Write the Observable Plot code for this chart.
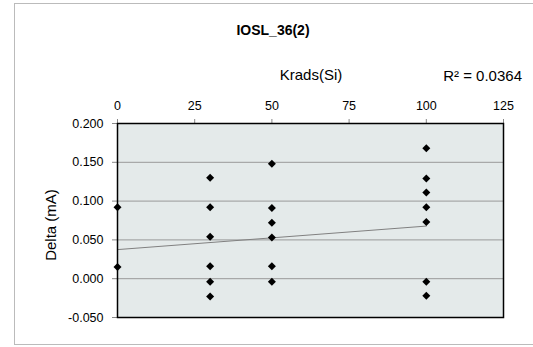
<!DOCTYPE html>
<html>
<head>
<meta charset="utf-8">
<script src="https://cdn.jsdelivr.net/npm/d3@7"></script>
<script src="https://cdn.jsdelivr.net/npm/@observablehq/plot@0.6"></script>
<style>
  html, body { margin: 0; padding: 0; background: #fff; }
  body { width: 533px; height: 347px; overflow: hidden; font-family: "Liberation Sans", Arial, sans-serif; }
  #wrap { position: relative; width: 533px; height: 347px; }
  #border { position: absolute; left: 14px; top: 3px; width: 530px; height: 342px; border: 1px solid #bbbbbb; box-sizing: border-box; }
  .lbl { position: absolute; white-space: nowrap; color: #000; }
  #title { left: 0; width: 546px; top: 22px; text-align: center; font-weight: bold; font-size: 14px; }
  #xlabel { left: 0; width: 622px; top: 66px; text-align: center; font-size: 15px; }
  #r2 { right: 11px; top: 67px; font-size: 15px; }
  #ylabel { left: 50px; top: 225px; font-size: 15px; transform: translate(-50%, -50%) rotate(-90deg); }
  #chart { position: absolute; left: 0; top: 0; }
</style>
</head>
<body>
<div id="wrap">
  <div id="border"></div>
  <div id="chart"></div>
  <div class="lbl" id="title"></div>
  <div class="lbl" id="xlabel"></div>
  <div class="lbl" id="r2"></div>
  <div class="lbl" id="ylabel"></div>
</div>
<script>
const titleText = "IOSL_36(2)";
const xLabel = "Krads(Si)";
const yLabel = "Delta (mA)";
const r2Text = "R² = 0.0364";

const xTicks = [0, 25, 50, 75, 100, 125];
const yTicks = [-0.05, 0, 0.05, 0.1, 0.15, 0.2];

// Data points (Krads(Si), Delta mA)
const krads = [0, 0,
  30, 30, 30, 30, 30, 30,
  50, 50, 50, 50, 50, 50,
  100, 100, 100, 100, 100, 100, 100];
const delta = [0.092, 0.015,
  0.130, 0.092, 0.054, 0.016, -0.004, -0.023,
  0.148, 0.091, 0.072, 0.053, 0.016, -0.004,
  0.168, 0.129, 0.111, 0.092, 0.073, -0.004, -0.022];

// Linear trendline as shown in the chart
const trendX = [0, 100];
const trendY = [0.0375, 0.0678];

const points = krads.map((k, i) => ({x: k, y: delta[i]}));
const trend = trendX.map((t, i) => ({x: t, y: trendY[i]}));

document.getElementById("title").textContent = titleText;
document.getElementById("xlabel").textContent = xLabel;
document.getElementById("r2").textContent = r2Text;
document.getElementById("ylabel").textContent = yLabel;

const chart = Plot.plot({
  width: 533,
  height: 347,
  marginLeft: 117,
  marginRight: 30,
  marginTop: 123,
  marginBottom: 30,
  style: {fontFamily: "'Liberation Sans', Arial, sans-serif", fontSize: "12.5px", color: "#000", background: "transparent"},
  x: {domain: [0, 125]},
  y: {domain: [-0.05, 0.2]},
  marks: [
    Plot.frame({fill: "#e4eaea", stroke: "none"}),
    Plot.gridY(yTicks, {stroke: "#999", strokeOpacity: 1, strokeWidth: 1}),
    Plot.axisX(xTicks, {anchor: "top", label: null, tickSize: 5, tickPadding: 9, stroke: "#888", tickFormat: d => String(d)}),
    Plot.axisY(yTicks, {anchor: "left", label: null, tickSize: 5, tickPadding: 9, stroke: "#888", tickFormat: d => d.toFixed(3)}),
    Plot.line(trend, {x: "x", y: "y", stroke: "#808080", strokeWidth: 1}),
    Plot.frame({stroke: "#000", strokeWidth: 1.5}),
    Plot.dot(points, {x: "x", y: "y", symbol: "diamond2", r: 3.6, fill: "#000", stroke: "none"})
  ]
});
document.getElementById("chart").appendChild(chart);
</script>
</body>
</html>
